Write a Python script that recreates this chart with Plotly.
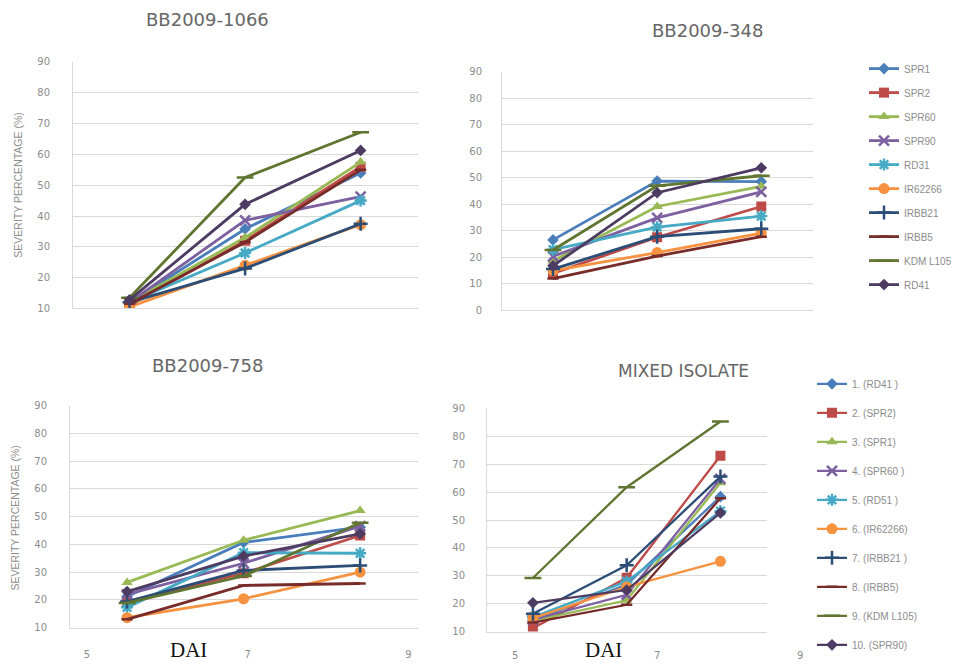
import plotly.graph_objects as go

# ---------------- data ----------------
dai = [5.5, 6.95, 8.4]

varieties = ["SPR1", "SPR2", "SPR60", "SPR90", "RD31", "IR62266",
             "IRBB21", "IRBB5", "KDM L105", "RD41"]

bb1066 = [
    [12.0, 35.8, 54.0],   # SPR1
    [11.0, 32.0, 56.0],   # SPR2
    [12.0, 33.0, 57.5],   # SPR60
    [12.0, 38.6, 46.3],   # SPR90
    [12.0, 28.0, 45.0],   # RD31
    [10.5, 24.0, 37.2],   # IR62266
    [12.0, 23.0, 37.5],   # IRBB21
    [11.5, 31.5, 55.0],   # IRBB5
    [13.5, 52.5, 67.2],   # KDM L105
    [12.8, 43.8, 61.3],   # RD41
]

bb348 = [
    [26.6, 48.8, 48.6],
    [14.0, 27.6, 39.2],
    [18.6, 39.2, 46.8],
    [20.4, 34.9, 44.7],
    [22.9, 31.4, 35.6],
    [15.0, 21.8, 29.2],
    [15.6, 27.8, 30.8],
    [12.0, 20.5, 27.8],
    [22.8, 47.0, 50.8],
    [16.8, 44.4, 53.8],
]

bb758 = [
    [21.2, 40.7, 46.2],
    [19.4, 29.6, 43.2],
    [26.3, 41.5, 52.2],
    [22.0, 33.2, 46.6],
    [17.3, 37.0, 36.8],
    [13.6, 20.4, 30.0],
    [19.4, 30.6, 32.4],
    [13.0, 25.2, 25.9],
    [18.9, 28.6, 47.8],
    [23.0, 35.8, 43.8],
]

mixed_names = ["1. (RD41 )", "2. (SPR2)", "3. (SPR1)", "4. (SPR60 )", "5. (RD51 )",
               "6. (IR62266)", "7. (IRBB21 )", "8. (IRBB5)", "9. (KDM L105)", "10. (SPR90)"]
mixed = [
    [14.0, 26.9, 58.4],
    [11.2, 29.3, 73.1],
    [13.8, 21.2, 63.4],
    [14.3, 23.2, 64.8],
    [15.2, 28.0, 53.2],
    [14.8, 26.0, 35.2],
    [16.4, 33.8, 65.6],
    [13.2, 19.6, 57.8],
    [29.2, 61.8, 85.4],
    [20.3, 24.9, 52.6],
]

x_tick_labels = ["5", "7", "9"]

colors = ["#4A7EBB", "#BE4B48", "#98B954", "#7D60A0", "#46AAC5",
          "#F69240", "#2C4D75", "#772C2A", "#5F7530", "#4D3B62"]
symbols = ["diamond", "square", "triangle-up", "x-thin-open", "asterisk-open",
           "circle", "cross-thin-open", "line-ew-open", "line-ew-open", "diamond"]
msizes = [9, 10, 10, 10, 10, 11, 10, 8, 12, 9]

fig = go.Figure()


def marker(i):
    open_sym = symbols[i].endswith("open")
    return dict(symbol=symbols[i], size=msizes[i], color=colors[i],
                line=dict(color=colors[i], width=2.5 if open_sym else 0))


panels = [(bb1066, "x", "y", False), (bb348, "x2", "y2", True), (bb758, "x3", "y3", False)]
for data, xa, ya, show in panels:
    for i, name in enumerate(varieties):
        fig.add_trace(go.Scatter(
            x=dai, y=data[i], name=name, mode="lines+markers",
            xaxis=xa, yaxis=ya, legendgroup="g%d" % i, showlegend=show,
            legend="legend",
            line=dict(color=colors[i], width=2.8), marker=marker(i)))

for i, name in enumerate(mixed_names):
    fig.add_trace(go.Scatter(
        x=dai, y=mixed[i], name=name, mode="lines+markers",
        xaxis="x4", yaxis="y4", legendgroup="m%d" % i, showlegend=True,
        legend="legend2",
        line=dict(color=colors[i], width=2.3), marker=marker(i)))

W, H = 962, 667


def dx(a, b):
    return [a / W, b / W]


def dy(top, bottom):
    return [1 - bottom / H, 1 - top / H]


grid = "#d9d9d9"
tickc = "#8c8c8c"
tfont = dict(family="DejaVu Sans, Arial, sans-serif", size=10, color=tickc)
xrange_ = [4.79, 9.12]


def yax(domain, rng, anchor, standoff):
    return dict(domain=domain, range=rng, dtick=10, anchor=anchor,
                showgrid=True, gridcolor=grid, gridwidth=1,
                showline=True, linecolor=grid, linewidth=1,
                zeroline=False, ticks="", tickfont=tfont,
                ticklabelstandoff=standoff, fixedrange=True)


def xax(domain, anchor, labels=False):
    d = dict(domain=domain, range=xrange_, anchor=anchor, showgrid=False,
             showline=True, linecolor=grid, linewidth=1, zeroline=False,
             ticks="", showticklabels=labels, fixedrange=True)
    if labels:
        d.update(tickvals=[5, 7, 9], ticktext=x_tick_labels, tickfont=tfont,
                 ticklabelstandoff=17)
    return d


title_font = dict(family="DejaVu Sans, Arial, sans-serif", size=18, color="#666666")
ytitle_font = dict(family="Liberation Sans Narrow, Arial Narrow, sans-serif", size=10.5, color=tickc)
dai_font = dict(family="Liberation Serif, Times New Roman, serif", size=21, color="#111111")

annotations = [
    dict(text="BB2009-1066", x=207 / W, y=1 - 14 / H, font=title_font),
    dict(text="BB2009-348", x=707 / W, y=1 - 25 / H, font=title_font),
    dict(text="BB2009-758", x=207 / W, y=1 - 366 / H, font=title_font),
    dict(text="MIXED ISOLATE", x=683 / W, y=1 - 372 / H, font=dict(title_font, size=17)),
    dict(text="SEVERITY PERCENTAGE (%)", x=18 / W, y=1 - 183 / H, textangle=-90, font=ytitle_font),
    dict(text="SEVERITY PERCENTAGE (%)", x=15 / W, y=1 - 522 / H, textangle=-90, font=ytitle_font),
    dict(text="DAI", x=188 / W, y=1 - 656 / H, font=dai_font),
    dict(text="DAI", x=603 / W, y=1 - 656 / H, font=dai_font),
    dict(text=x_tick_labels[0], x=515 / W, y=1 - 661 / H, font=tfont),
    dict(text=x_tick_labels[1], x=657 / W, y=1 - 661 / H, font=tfont),
    dict(text=x_tick_labels[2], x=800 / W, y=1 - 661 / H, font=tfont),
]
for a in annotations:
    a.update(xref="paper", yref="paper", showarrow=False, xanchor="center", yanchor="middle")

legend_font = dict(family="Arial, Liberation Sans, sans-serif", size=10, color="#8c8c8c")

fig.update_layout(
    width=W, height=H, autosize=False,
    margin=dict(l=0, r=0, t=0, b=0),
    paper_bgcolor="white", plot_bgcolor="white",
    showlegend=True,
    xaxis=xax(dx(73, 418), "y"),
    yaxis=yax(dy(57, 308), [10, 90], "x", 20),
    xaxis2=xax(dx(502, 813), "y2"),
    yaxis2=yax(dy(67, 310), [0, 90], "x2", 17),
    xaxis3=xax(dx(70, 418), "y3", labels=True),
    yaxis3=yax(dy(407, 633), [10, 90], "x3", 20),
    xaxis4=xax(dx(487, 767), "y4"),
    yaxis4=yax(dy(410, 637), [10, 90], "x4", 19),
    legend=dict(x=864 / W, y=1 - 49 / H, xanchor="left", yanchor="top",
                font=legend_font, tracegroupgap=5,
                traceorder="grouped", bgcolor="rgba(0,0,0,0)"),
    legend2=dict(x=812 / W, y=1 - 370 / H, xanchor="left", yanchor="top",
                 font=legend_font, tracegroupgap=10,
                 traceorder="grouped", bgcolor="rgba(0,0,0,0)"),
    annotations=annotations,
)

fig.write_html("out.html", config={"displayModeBar": False},
               post_script="document.body.style.margin='0';")
